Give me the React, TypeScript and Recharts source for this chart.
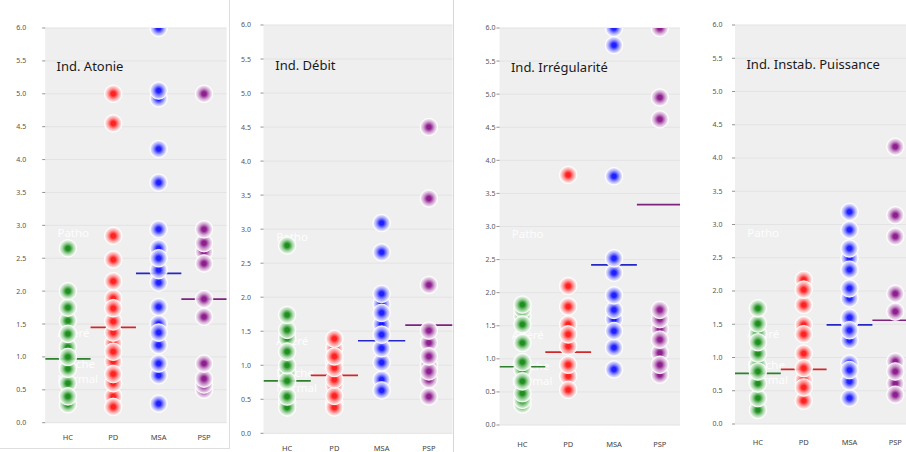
import React from 'react';
import { ScatterChart, Scatter, XAxis, YAxis, CartesianGrid } from 'recharts';

const categories = ['HC', 'PD', 'MSA', 'PSP'];
const yTicks = [0, 0.5, 1, 1.5, 2, 2.5, 3, 3.5, 4, 4.5, 5, 5.5, 6];
const zoneLabels = ['Patho', 'Altéré', 'Proche', 'Normal'];
const zoneLevels = [2.88, 1.36, 0.89, 0.66];
const titles = ['Ind. Atonie', 'Ind. Débit', 'Ind. Irrégularité', 'Ind. Instab. Puissance'];

// Ind. Atonie (covered points first, then fully visible points)
const atonieHC = [0.28, 0.6, 0.82, 1.15, 1.55, 0.4, 1.0, 1.35, 1.75, 2.0, 2.65];
const atoniePD = [0.4, 0.6, 0.93, 1.21, 1.89, 0.24, 0.74, 1.08, 1.37, 1.54, 1.74, 2.15, 2.48, 2.84, 4.55, 5.0];
const atonieMSA = [0.72, 1.5, 2.65, 4.93, 0.29, 0.9, 1.18, 1.37, 1.76, 2.13, 2.32, 2.5, 2.94, 3.65, 4.16, 5.05, 6.0];
const atoniePSP = [0.5, 0.58, 2.6, 0.67, 0.9, 1.61, 1.88, 2.42, 2.73, 2.94, 5.0];
const atonieMeans = [0.97, 1.45, 2.27, 1.88];

// Ind. Débit
const debitHC = [0.45, 0.9, 1.4, 0.38, 0.54, 0.77, 1.0, 1.2, 1.52, 1.74, 2.76];
const debitPD = [0.45, 0.7, 1.05, 1.25, 0.38, 0.55, 0.79, 0.96, 1.13, 1.39];
const debitMSA = [0.79, 1.6, 1.9, 0.63, 1.04, 1.25, 1.45, 1.77, 2.05, 2.66, 3.09];
const debitPSP = [0.79, 1.0, 1.33, 0.54, 0.91, 1.13, 1.51, 2.18, 3.45, 4.5];
const debitMeans = [0.77, 0.85, 1.36, 1.59];

// Ind. Irrégularité
const irregHC = [0.31, 0.38, 0.48, 0.84, 1.65, 1.75, 1.82, 0.66, 0.95, 1.24, 1.52];
const irregPD = [0.74, 1.19, 1.52, 0.53, 0.91, 1.37, 1.79, 2.1, 3.78];
const irregMSA = [1.6, 0.84, 1.17, 1.42, 1.74, 1.96, 2.3, 2.52, 3.76, 5.74, 6.0];
const irregPSP = [0.76, 1.09, 1.45, 1.6, 0.91, 1.29, 1.74, 4.62, 4.95, 6.0];
const irregMeans = [0.88, 1.1, 2.42, 3.33];

// Ind. Instab. Puissance
const instabHC = [0.21, 0.89, 1.36, 0.39, 0.61, 0.79, 1.06, 1.23, 1.51, 1.74];
const instabPD = [0.66, 1.06, 1.49, 2.17, 0.35, 0.55, 0.84, 1.35, 1.79, 2.02];
const instabMSA = [0.91, 1.26, 1.55, 1.6, 1.89, 2.49, 0.39, 0.64, 0.81, 1.41, 2.04, 2.32, 2.64, 2.92, 3.19];
const instabPSP = [0.61, 0.94, 0.44, 0.79, 1.69, 1.96, 2.82, 3.14, 4.17];
const instabMeans = [0.76, 0.82, 1.49, 1.56];

const dotColors = ['#1f8f1f', '#ff2020', '#2020ff', '#8e1f8e'];
const tintColors = ['#a6d6a6', '#ffa6a6', '#a6a6ff', '#d2a6d2'];
const meanColors = ['#2f7f2f', '#d02828', '#2626c8', '#7e227e'];

const panelSeries = [
  [atonieHC, atoniePD, atonieMSA, atoniePSP],
  [debitHC, debitPD, debitMSA, debitPSP],
  [irregHC, irregPD, irregMSA, irregPSP],
  [instabHC, instabPD, instabMSA, instabPSP],
];
const panelMeans = [atonieMeans, debitMeans, irregMeans, instabMeans];

// layout (pixels)
const layouts = [
  { left: 0, clip: 229, width: 229, plotLeft: 45.2, plotWidth: 181.5, top: 28, bottom: 422.7, tickMarginY: 16, tickMarginX: 12.3 },
  { left: 230, clip: 224, width: 224, plotLeft: 33.5, plotWidth: 189, top: 25, bottom: 433.3, tickMarginY: 9.6, tickMarginX: 12.4 },
  { left: 455, clip: 225, width: 230, plotLeft: 44.5, plotWidth: 183.2, top: 28, bottom: 425, tickMarginY: 1, tickMarginX: 16.7 },
  { left: 680, clip: 226, width: 242, plotLeft: 55, plotWidth: 183.2, top: 25, bottom: 424, tickMarginY: 9.6, tickMarginX: 15.3 },
];

const H = 452;
const XAXIS_H = 10;

const makeDot = (ci: number) => (props: any) => {
  const { cx, cy } = props;
  if (cx == null || cy == null) return <g />;
  return (
    <circle cx={cx} cy={cy} r={8.8} fill={`url(#dotGrad${ci})`} stroke="#ffffff" strokeWidth={1} strokeOpacity={0.9} />
  );
};

const makeMean = (ci: number, half: number) => (props: any) => {
  const { cx, cy } = props;
  if (cx == null || cy == null) return <g />;
  return <line x1={cx - half} x2={cx + half} y1={cy} y2={cy} stroke={meanColors[ci]} strokeWidth={1.7} />;
};

const zoneShape = (props: any) => {
  const { cx, cy, payload } = props;
  if (cx == null || cy == null) return <g />;
  return (
    <text x={cx} y={cy} dy="0.35em" fill="#ffffff" fillOpacity={0.9} fontSize={11.5} fontFamily="'Noto Sans', sans-serif">
      {payload.t}
    </text>
  );
};

const titleShape = (props: any) => {
  const { cx, cy, payload } = props;
  if (cx == null || cy == null) return <g />;
  return (
    <text x={cx} y={cy} dy="0.35em" fill="#1a1a1a" fontSize={13} fontFamily="'Noto Sans', sans-serif">
      {payload.t}
    </text>
  );
};

function Panel({ idx }: { idx: number }) {
  const L = layouts[idx];
  const half = L.plotWidth / 8;
  const series = panelSeries[idx];
  const means = panelMeans[idx];
  const zoneData = zoneLabels.map((t, i) => ({ x: -0.23, y: zoneLevels[i], t }));
  const titleData = [{ x: -0.25, y: 5.41, t: titles[idx] }];
  const marginBottom = H - L.bottom - XAXIS_H;
  const marginRight = L.width - L.plotLeft - L.plotWidth;
  return (
    <div style={{ position: 'absolute', left: L.left, top: 0, width: L.clip, height: H, overflow: 'hidden', background: '#ffffff' }}>
      <ScatterChart
        width={L.width}
        height={H}
        margin={{ top: L.top, right: marginRight, bottom: marginBottom, left: 0 }}
      >
        <CartesianGrid vertical={false} fill="#efefef" stroke="#e3e3e3" strokeWidth={1} />
        <XAxis
          type="number"
          dataKey="x"
          domain={[-0.5, 3.5]}
          ticks={[0, 1, 2, 3]}
          interval={0}
          tickFormatter={(v: number) => categories[v] ?? ''}
          axisLine={false}
          tickLine={false}
          tickSize={0}
          tickMargin={L.tickMarginX}
          height={XAXIS_H}
          tick={{ fontSize: 7.5, fill: '#444', fontFamily: "'Noto Sans', sans-serif" }}
          allowDataOverflow
        />
        <YAxis
          type="number"
          dataKey="y"
          domain={[0, 6]}
          ticks={yTicks}
          interval={0}
          tickFormatter={(v: number) => v.toFixed(1)}
          axisLine={false}
          tickLine={{ stroke: '#777', strokeWidth: 0.8 }}
          tickSize={3}
          tickMargin={L.tickMarginY}
          width={L.plotLeft}
          tick={{ fontSize: 7, fill: '#555', fontFamily: "'Noto Sans', sans-serif" }}
          allowDataOverflow
        />
        <Scatter data={zoneData} shape={zoneShape} isAnimationActive={false} />
        {means.map((m, ci) => (
          <Scatter key={`m${ci}`} data={[{ x: ci, y: m }]} shape={makeMean(ci, half)} isAnimationActive={false} />
        ))}
        {series.map((vals, ci) => (
          <Scatter
            key={`s${ci}`}
            data={vals.map((v) => ({ x: ci, y: v }))}
            shape={makeDot(ci)}
            isAnimationActive={false}
          />
        ))}
        <Scatter data={titleData} shape={titleShape} isAnimationActive={false} />
      </ScatterChart>
    </div>
  );
}

export default function App() {
  return (
    <div style={{ position: 'absolute', left: 0, top: 0, width: 906, height: 452, background: '#ffffff', overflow: 'hidden' }}>
      <svg width={0} height={0} style={{ position: 'absolute' }}>
        <defs>
          {dotColors.map((c, i) => (
            <radialGradient key={i} id={`dotGrad${i}`} cx="50%" cy="50%" r="50%">
              <stop offset="0" stopColor={c} stopOpacity={1} />
              <stop offset="0.24" stopColor={c} stopOpacity={1} />
              <stop offset="0.66" stopColor={tintColors[i]} stopOpacity={0.88} />
              <stop offset="1" stopColor="#ffffff" stopOpacity={0.9} />
            </radialGradient>
          ))}
        </defs>
      </svg>
      {[0, 1, 2, 3].map((i) => (
        <Panel key={i} idx={i} />
      ))}
      <div style={{ position: 'absolute', left: 229, top: 0, width: 1, height: 448, background: '#dedede' }} />
      <div style={{ position: 'absolute', left: 0, top: 448, width: 230, height: 1, background: '#dedede' }} />
      <div style={{ position: 'absolute', left: 453, top: 0, width: 1, height: 452, background: '#d6d6d6' }} />
    </div>
  );
}
